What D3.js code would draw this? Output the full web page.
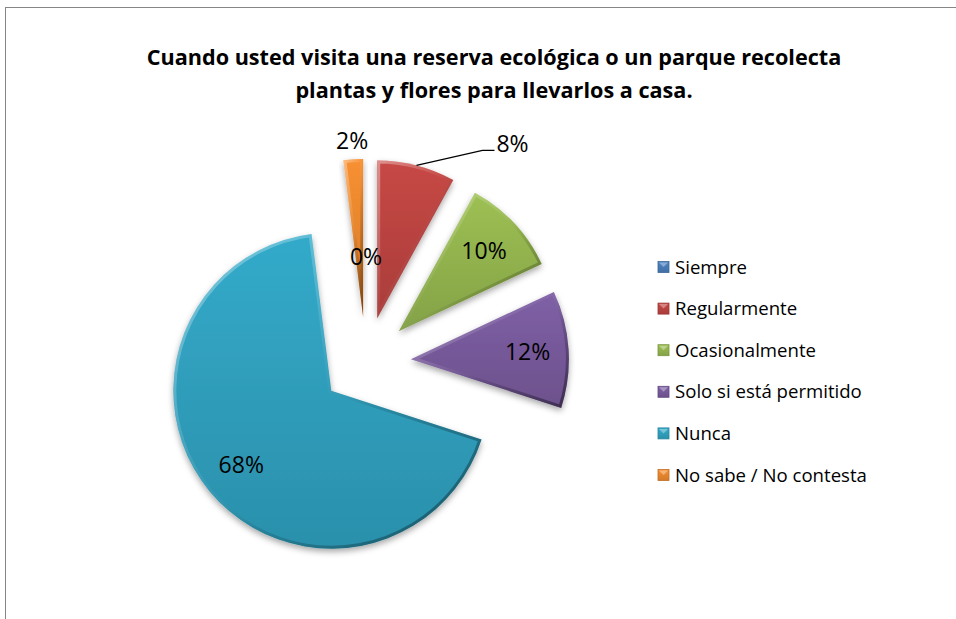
<!DOCTYPE html>
<html>
<head>
<meta charset="utf-8">
<script src="https://cdn.jsdelivr.net/npm/d3@7/dist/d3.min.js"></script>
<style>
  body { margin: 0; background: #fff; }
  svg { display: block; }
  text { font-family: "Open Sans", "DejaVu Sans", sans-serif; fill: #000; }
</style>
</head>
<body>
<svg id="chart"></svg>
<script>
// chart data
var titleLines = ["Cuando usted visita una reserva ecológica o un parque recolecta",
                  "plantas y flores para llevarlos a casa."];
var categories = ["Siempre", "Regularmente", "Ocasionalmente", "Solo si está permitido", "Nunca", "No sabe / No contesta"];
var values = [0, 8, 10, 12, 68, 2];
var palette = ["#4a7ebb", "#bf4542", "#96b850", "#7a5c9f", "#31a3c2", "#ee8a2f"];

var width = 956, height = 619;
var cx = 366, cy = 362;      // pie centre
var radius = 158;
var explode = 45;

var svg = d3.select("#chart")
  .attr("width", width)
  .attr("height", height);

var defs = svg.append("defs");

var color = d3.scaleOrdinal().domain(categories).range(palette);

// fill gradients, one per category
categories.forEach(function(c, i) {
  var g = defs.append("linearGradient")
    .attr("id", "fill" + i)
    .attr("x1", 0).attr("y1", 0).attr("x2", 0).attr("y2", 1);
  g.append("stop").attr("offset", "0%").attr("stop-color", d3.color(color(c)).brighter(0.12));
  g.append("stop").attr("offset", "100%").attr("stop-color", d3.color(color(c)).darker(0.35));
});

// bevel edge: light top-left, dark bottom-right
var bevel = defs.append("linearGradient")
  .attr("id", "bevel")
  .attr("x1", 0).attr("y1", 0).attr("x2", 1).attr("y2", 1);
bevel.append("stop").attr("offset", "0%").attr("stop-color", "#fff").attr("stop-opacity", 0.4);
bevel.append("stop").attr("offset", "45%").attr("stop-color", "#fff").attr("stop-opacity", 0.05);
bevel.append("stop").attr("offset", "60%").attr("stop-color", "#000").attr("stop-opacity", 0.1);
bevel.append("stop").attr("offset", "100%").attr("stop-color", "#000").attr("stop-opacity", 0.45);

var shadow = defs.append("filter")
  .attr("id", "shadow")
  .attr("x", "-20%").attr("y", "-20%").attr("width", "140%").attr("height", "140%");
shadow.append("feDropShadow")
  .attr("dx", 0).attr("dy", 3).attr("stdDeviation", 3)
  .attr("flood-color", "#000").attr("flood-opacity", 0.35);

// outer frame (cut off on the right and bottom like the original)
svg.append("rect")
  .attr("x", 5.5).attr("y", 7.5)
  .attr("width", width + 20).attr("height", height + 20)
  .attr("fill", "none")
  .attr("stroke", "#868686")
  .attr("stroke-width", 1);

// title
function fitText(sel, target) {
  var w = sel.node().getComputedTextLength();
  var fs = parseFloat(sel.style("font-size"));
  sel.style("font-size", (fs * target / w) + "px");
}
var title = svg.append("g").attr("class", "title");
var t1 = title.append("text")
  .attr("x", 494).attr("y", 65)
  .attr("text-anchor", "middle")
  .style("font-weight", "bold")
  .style("font-size", "19px")
  .text(titleLines[0]);
fitText(t1, 695);
title.append("text")
  .attr("x", 494).attr("y", 98)
  .attr("text-anchor", "middle")
  .style("font-weight", "bold")
  .style("font-size", t1.style("font-size"))
  .text(titleLines[1]);

// pie
var pie = d3.pie()
  .sort(null)
  .value(function(d) { return d; });

var arc = d3.arc()
  .innerRadius(0)
  .outerRadius(radius);

var arcs = pie(values);

function midAngle(d) { return (d.startAngle + d.endAngle) / 2; }
function offset(d, r) {
  var a = midAngle(d);
  return [Math.sin(a) * r, -Math.cos(a) * r];
}

var slices = svg.append("g")
  .attr("transform", "translate(" + cx + "," + cy + ")");

var slice = slices.selectAll(".slice")
  .data(arcs)
  .enter()
  .append("g")
  .attr("class", "slice")
  .attr("transform", function(d) {
    var o = offset(d, explode);
    return "translate(" + o[0] + "," + o[1] + ")";
  });

slice.append("clipPath")
  .attr("id", function(d, i) { return "clip" + i; })
  .append("path")
  .attr("d", arc);

slice.append("path")
  .attr("d", arc)
  .attr("fill", function(d, i) { return "url(#fill" + i + ")"; })
  .attr("filter", "url(#shadow)");

slice.append("path")
  .attr("d", arc)
  .attr("fill", "none")
  .attr("stroke", "url(#bevel)")
  .attr("stroke-width", 6)
  .attr("clip-path", function(d, i) { return "url(#clip" + i + ")"; });

// data labels
var outside = ["Regularmente", "No sabe / No contesta"];
var labels = slices.append("g").attr("class", "labels");
var labelSize = "23px";

arcs.forEach(function(d, i) {
  var cat = categories[i];
  var txt = values[i] + "%";
  if (outside.indexOf(cat) < 0) {
    var r = values[i] === 0 ? explode + radius * 0.38 : explode + radius * 0.74;
    var p = offset(d, r);
    labels.append("text")
      .attr("x", p[0]).attr("y", p[1])
      .attr("dy", "0.35em")
      .attr("text-anchor", "middle")
      .style("font-size", labelSize)
      .text(txt);
  } else if (d.endAngle - d.startAngle < 0.3) {
    var q = offset(d, explode + radius + 19);
    labels.append("text")
      .attr("x", q[0]).attr("y", q[1])
      .attr("dy", "0.35em")
      .attr("text-anchor", "middle")
      .style("font-size", labelSize)
      .text(txt);
  } else {
    // label with leader line
    var e = offset(d, explode + radius);
    var elbow = [e[0] + 66, e[1] - 15];
    var end = [elbow[0] + 12, elbow[1]];
    labels.append("polyline")
      .attr("points", [e, elbow, end].map(function(p) { return p.join(","); }).join(" "))
      .attr("fill", "none")
      .attr("stroke", "#000")
      .attr("stroke-width", 1.2);
    labels.append("text")
      .attr("x", end[0] + 2).attr("y", end[1] - 6)
      .attr("dy", "0.35em")
      .attr("text-anchor", "start")
      .style("font-size", labelSize)
      .text(txt);
  }
});

// legend
var ly = d3.scalePoint().domain(categories).range([267, 475]);

var legend = svg.append("g").attr("class", "legend");
var item = legend.selectAll(".item")
  .data(categories)
  .enter()
  .append("g")
  .attr("class", "item")
  .attr("transform", function(d) { return "translate(658," + ly(d) + ")"; });

item.append("rect")
  .attr("x", 0).attr("y", -5.5)
  .attr("width", 11).attr("height", 11)
  .attr("fill", function(d, i) { return "url(#fill" + i + ")"; })
  .attr("stroke", function(d) { return d3.color(color(d)).darker(0.6); })
  .attr("stroke-width", 0.8);

item.append("path")
  .attr("d", "M1,-4.5 L10,-4.5 L5.5,0 Z")
  .attr("fill", "#fff")
  .attr("opacity", 0.35);

var legendText = item.append("text")
  .attr("x", 17)
  .attr("dy", "0.35em")
  .style("font-size", "16.5px")
  .text(function(d) { return d; });

// size the legend font so the longest entry spans the same width as the original
var longest = legendText.filter(function(d) { return d === "No sabe / No contesta"; });
fitText(longest, 192);
legendText.style("font-size", longest.style("font-size"));
</script>
</body>
</html>
